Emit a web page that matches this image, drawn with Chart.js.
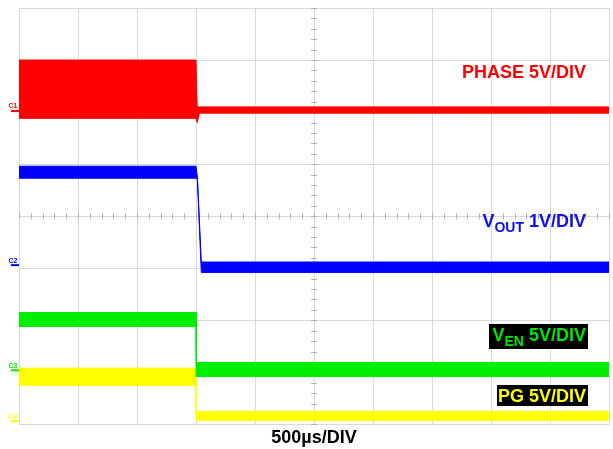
<!DOCTYPE html>
<html>
<head>
<meta charset="utf-8">
<script src="https://cdn.jsdelivr.net/npm/chart.js@4.4.1/dist/chart.umd.min.js"></script>
<style>
  body { margin: 0; background: #fff; }
  #wrap { width: 613px; height: 449px; }
</style>
</head>
<body>
<div id="wrap"><canvas id="scope" width="613" height="449"></canvas></div>
<script>
// Temps en µs (500 µs/div), niveaux en divisions (0 = bas de l'écran, 8 = haut)
const phaseTime = [0, 1500, 1510, 1530, 5000];
const phaseHigh = [7.0, 7.0, 6.10, 6.10, 6.10];
const phaseLow = [5.88, 5.88, 5.80, 5.98, 5.98];

const voutTime = [0, 1500, 1512, 1545, 5000];
const voutHigh = [4.96, 4.96, 4.75, 3.12, 3.12];
const voutLow = [4.73, 4.73, 4.70, 2.92, 2.92];

const venTime = [0, 1500, 1503, 5000];
const venHigh = [2.15, 2.15, 1.19, 1.19];
const venLow = [1.88, 1.88, 0.92, 0.92];

const pgTime = [0, 1500, 1503, 5000];
const pgHigh = [1.08, 1.08, 0.25, 0.25];
const pgLow = [0.75, 0.75, 0.08, 0.08];

const channelNames = ["C1", "C2", "C3", "C4"];
const channelGround = [6.02, 3.06, 1.04, 0.06];
const channelColors = ["#ff0000", "#0000ff", "#00ee00", "#ffff00"];

const FONT = "Arial, 'Liberation Sans', sans-serif";

function pts(xs, ys) {
  return xs.map((x, i) => ({ x: x, y: ys[i] }));
}

// bande = enveloppe haute remplie jusqu'à l'enveloppe basse
function band(name, xs, hi, lo, color) {
  return [
    {
      label: name,
      data: pts(xs, hi),
      borderColor: color,
      backgroundColor: color,
      borderWidth: 1,
      pointRadius: 0,
      fill: "+1",
    },
    {
      label: name + " low",
      data: pts(xs, lo),
      borderColor: color,
      backgroundColor: color,
      borderWidth: 1,
      pointRadius: 0,
      fill: false,
    },
  ];
}

// graduations fines sur les axes centraux + marqueurs C1..C4
const scopeDecor = {
  id: "scopeDecor",
  beforeDatasetsDraw(chart) {
    const { ctx, scales } = chart;
    const xs = scales.x, ys = scales.y;
    const cx = xs.getPixelForValue(2500);
    const cy = ys.getPixelForValue(4);
    ctx.save();
    ctx.strokeStyle = "#b0b0b0";
    ctx.lineWidth = 1;
    ctx.beginPath();
    for (let v = 0; v <= 8.001; v += 0.2) {
      const py = Math.round(ys.getPixelForValue(v)) + 0.5;
      ctx.moveTo(cx - 3, py);
      ctx.lineTo(cx + 3, py);
    }
    for (let t = 0; t <= 5000; t += 100) {
      const px = Math.round(xs.getPixelForValue(t)) + 0.5;
      ctx.moveTo(px, cy - 3);
      ctx.lineTo(px, cy + 3);
    }
    ctx.stroke();
    ctx.restore();
  },
  afterDraw(chart) {
    const { ctx, scales, chartArea } = chart;
    ctx.save();
    ctx.font = "bold 7px " + FONT;
    ctx.textAlign = "center";
    ctx.textBaseline = "bottom";
    channelNames.forEach((name, i) => {
      const py = scales.y.getPixelForValue(channelGround[i]);
      ctx.fillStyle = channelColors[i];
      ctx.fillText(name, 13, py - 1);
      ctx.fillRect(11, py - 1, chartArea.left - 11, 2);
    });

    // étiquettes des voies, alignées à droite
    drawLabel(ctx, 586, 78, [{ t: "PHASE 5V/DIV", s: 18, dy: 0 }], "#ff0000");
    drawLabel(ctx, 586, 227, [
      { t: "V", s: 18, dy: 0 },
      { t: "OUT", s: 14, dy: 5 },
      { t: " 1V/DIV", s: 18, dy: 0 },
    ], "#1010e8");
    ctx.fillStyle = "#000";
    ctx.fillRect(489, 324, 99, 25);
    drawLabel(ctx, 586, 341, [
      { t: "V", s: 18, dy: 0 },
      { t: "EN", s: 14, dy: 5 },
      { t: " 5V/DIV", s: 18, dy: 0 },
    ], "#00e600");
    ctx.fillStyle = "#000";
    ctx.fillRect(497, 385, 91, 21);
    drawLabel(ctx, 586, 402, [{ t: "PG 5V/DIV", s: 18, dy: 0 }], "#ffff00");
    ctx.restore();
  },
};

function drawLabel(ctx, right, base, parts, color) {
  ctx.save();
  ctx.textAlign = "left";
  ctx.textBaseline = "alphabetic";
  ctx.fillStyle = color;
  let total = 0;
  parts.forEach((p) => {
    ctx.font = "bold " + p.s + "px " + FONT;
    p.w = ctx.measureText(p.t).width;
    total += p.w;
  });
  let x = right - total;
  parts.forEach((p) => {
    ctx.font = "bold " + p.s + "px " + FONT;
    ctx.fillText(p.t, x, base + p.dy);
    x += p.w;
  });
  ctx.restore();
}

const ctx = document.getElementById("scope").getContext("2d");
const scopeChart = new Chart(ctx, {
  type: "line",
  data: {
    datasets: [
      ...band("PHASE", phaseTime, phaseHigh, phaseLow, "#ff0000"),
      ...band("VOUT", voutTime, voutHigh, voutLow, "#0000ff"),
      ...band("VEN", venTime, venHigh, venLow, "#00ee00"),
      ...band("PG", pgTime, pgHigh, pgLow, "#ffff00"),
    ],
  },
  options: {
    responsive: false,
    animation: false,
    layout: { padding: { left: 19, top: 8, right: 4, bottom: 0 } },
    plugins: {
      legend: { display: false },
      tooltip: { enabled: false },
    },
    scales: {
      x: {
        type: "linear",
        min: 0,
        max: 5000,
        ticks: { display: false, stepSize: 500 },
        grid: { color: "#d9d9d9", drawTicks: false },
        border: { color: "#d9d9d9" },
        title: {
          display: true,
          text: "500µs/DIV",
          color: "#000",
          font: { family: FONT, size: 18, weight: "bold" },
          padding: { top: 3, bottom: 0 },
        },
      },
      y: {
        min: 0,
        max: 8,
        ticks: { display: false, stepSize: 1 },
        grid: { color: "#d9d9d9", drawTicks: false },
        border: { color: "#d9d9d9" },
      },
    },
  },
  plugins: [scopeDecor],
});
</script>
</body>
</html>
